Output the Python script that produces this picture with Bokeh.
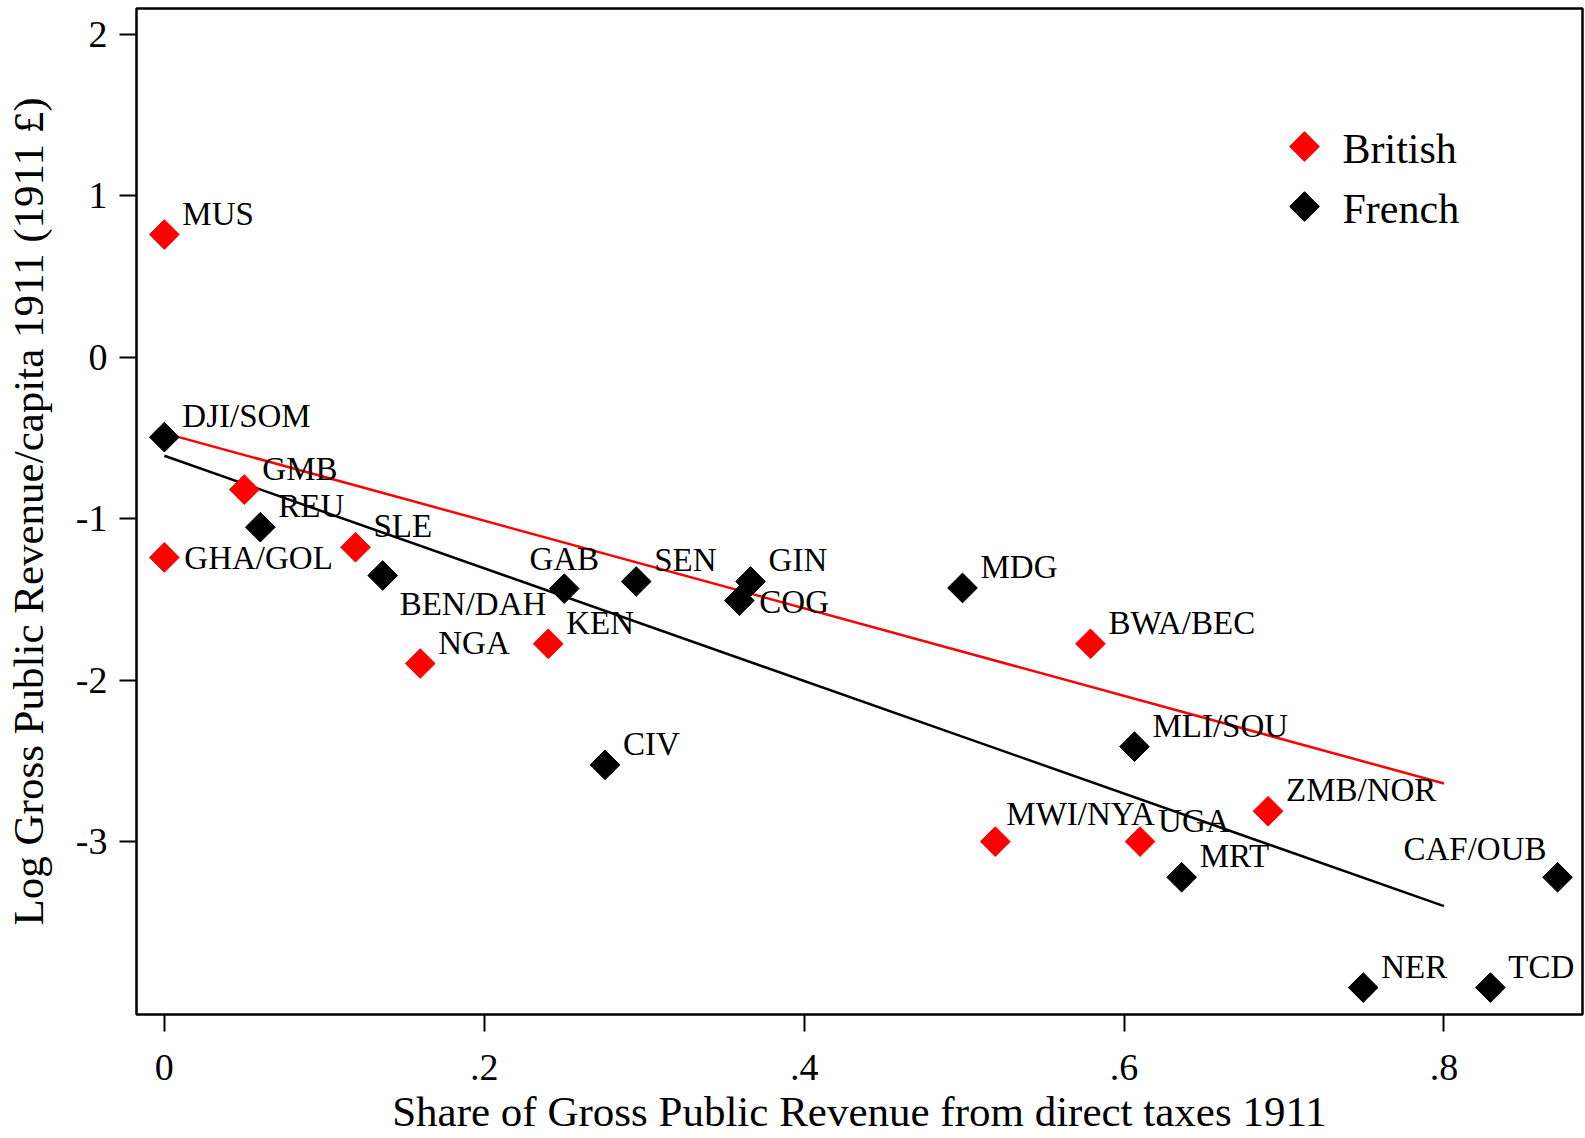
import numpy as np
from bokeh.plotting import figure
from bokeh.models import ColumnDataSource, Range1d, FixedTicker, LabelSet, Label
from bokeh.embed import file_html
from bokeh.resources import INLINE

# ---------------- data ----------------
british_codes = ["MUS", "GMB", "GHA/GOL", "SLE", "NGA", "KEN",
                 "BWA/BEC", "MWI/NYA", "UGA", "ZMB/NOR"]
british_x = [0.000, 0.050, 0.000, 0.1195, 0.160, 0.240,
             0.579, 0.5195, 0.610, 0.690]
british_y = [0.76, -0.82, -1.24, -1.177, -1.897, -1.775,
             -1.775, -3.00, -3.00, -2.812]

french_codes = ["DJI/SOM", "REU", "BEN/DAH", "GAB", "SEN", "GIN", "COG",
                "CIV", "MDG", "MLI/SOU", "MRT", "CAF/OUB", "NER", "TCD"]
french_x = [0.000, 0.060, 0.1365, 0.250, 0.295, 0.3665, 0.3595,
            0.2755, 0.499, 0.6065, 0.636, 0.871, 0.7495, 0.829]
french_y = [-0.495, -1.053, -1.352, -1.433, -1.389, -1.389, -1.507,
            -2.525, -1.429, -2.412, -3.221, -3.221, -3.904, -3.904]

fit_x = [0.0, 0.8]
british_fit_y = [-0.47, -2.64]
french_fit_y = [-0.61, -3.40]

x_ticks = [0.0, 0.2, 0.4, 0.6, 0.8]
x_tick_labels = ["0", ".2", ".4", ".6", ".8"]
y_ticks = [-3, -2, -1, 0, 1, 2]
y_tick_labels = ["-3", "-2", "-1", "0", "1", "2"]

legend_labels = ["British", "French"]

x_title = "Share of Gross Public Revenue from direct taxes 1911"
y_title = "Log Gross Public Revenue/capita 1911 (1911 \u00a3)"

# ---------------- styling ----------------
FONT = "Liberation Serif"
RED = "#ff0000"
MARKER_SIZE = 21

# label placement (style): offsets in px, y up positive
label_place = {"GHA/GOL": "r", "COG": "r", "BEN/DAH": "lr", "GAB": "u",
               "CAF/OUB": "ul", "MWI/NYA": "ur2"}
place_style = {
    "ur": (18, 10, "left"),
    "ur2": (11, 17, "left"),
    "r": (20, -12, "left"),
    "lr": (17, -39, "left"),
    "u": (0, 19, "center"),
    "ul": (-11, 17, "right"),
}

# layout
W, H = 1584, 1138
B_LEFT, B_RIGHT, B_TOP, B_BOTTOM = 136, 2, 8, 124
FRAME_W = W - B_LEFT - B_RIGHT
FRAME_H = H - B_TOP - B_BOTTOM

# legend placement in frame pixels (from bottom-left of the frame)
LEG_KEY_X = 1168
LEG_TOP_Y = 868
LEG_ROW = 60
LEG_TEXT_DX = 38
LEG_TEXT_DY = -2


def make_source(codes, xs, ys):
    xo, yo, al = [], [], []
    for c in codes:
        a, b, t = place_style[label_place.get(c, "ur")]
        xo.append(a)
        yo.append(b)
        al.append(t)
    return ColumnDataSource(dict(x=xs, y=ys, code=codes, xo=xo, yo=yo, al=al))


p = figure(width=W, height=H, output_backend="svg", toolbar_location=None,
           x_range=Range1d(-0.0174, 0.8866), y_range=Range1d(-4.071, 2.160),
           min_border_left=B_LEFT, min_border_right=B_RIGHT,
           min_border_top=B_TOP, min_border_bottom=B_BOTTOM)
p.extra_x_ranges = {"px": Range1d(0, FRAME_W)}
p.extra_y_ranges = {"px": Range1d(0, FRAME_H)}
p.background_fill_color = "white"
p.border_fill_color = "white"
p.grid.visible = False
p.outline_line_color = "black"
p.outline_line_width = 2.5

# fit lines
p.line(fit_x, british_fit_y, line_color=RED, line_width=2.5)
p.line(fit_x, french_fit_y, line_color="black", line_width=2.5)

bsrc = make_source(british_codes, british_x, british_y)
fsrc = make_source(french_codes, french_x, french_y)

p.scatter("x", "y", source=bsrc, marker="square", angle=np.pi / 4,
          size=MARKER_SIZE, fill_color=RED, line_color=RED, line_width=1)
p.scatter("x", "y", source=fsrc, marker="square", angle=np.pi / 4,
          size=MARKER_SIZE, fill_color="black", line_color="black", line_width=1)

for src in (bsrc, fsrc):
    p.add_layout(LabelSet(x="x", y="y", text="code", source=src,
                          x_offset="xo", y_offset="yo", text_align="al",
                          text_baseline="alphabetic", text_font=FONT,
                          text_font_size="33px", text_color="black"))

# legend (diamond keys + labels), positioned in frame pixels
key_y = [LEG_TOP_Y - i * LEG_ROW for i in range(len(legend_labels))]
p.scatter([LEG_KEY_X] * len(key_y), key_y, x_range_name="px", y_range_name="px",
          marker="square", angle=np.pi / 4, size=MARKER_SIZE,
          fill_color=[RED, "black"], line_color=[RED, "black"], line_width=1)
for lab, ky in zip(legend_labels, key_y):
    p.add_layout(Label(x=LEG_KEY_X + LEG_TEXT_DX, y=ky + LEG_TEXT_DY, text=lab,
                       x_range_name="px", y_range_name="px",
                       text_font=FONT, text_font_size="42px",
                       text_baseline="alphabetic", text_color="black"))

# axes
for ax in (p.xaxis[0], p.yaxis[0]):
    ax.axis_line_color = None
    ax.major_tick_line_color = "black"
    ax.major_tick_line_width = 2
    ax.major_tick_out = 17
    ax.major_tick_in = 0
    ax.minor_tick_line_color = None
    ax.major_label_text_font = FONT
    ax.major_label_text_font_size = "38px"
    ax.major_label_text_color = "black"
    ax.axis_label_text_font = FONT
    ax.axis_label_text_font_size = "43px"
    ax.axis_label_text_font_style = "normal"
    ax.axis_label_text_color = "black"

p.xaxis.ticker = FixedTicker(ticks=x_ticks)
p.xaxis.major_label_overrides = dict(zip(x_ticks, x_tick_labels))
p.xaxis.axis_label = x_title
p.xaxis.major_label_standoff = 23
p.xaxis.axis_label_standoff = 5

p.yaxis.ticker = FixedTicker(ticks=y_ticks)
p.yaxis.major_label_overrides = dict(zip(y_ticks, y_tick_labels))
p.yaxis.axis_label = y_title
p.yaxis.major_label_standoff = 12
p.yaxis.axis_label_standoff = 21
p.yaxis.major_label_orientation = "horizontal"

open("out.html", "w").write(file_html(p, INLINE))
